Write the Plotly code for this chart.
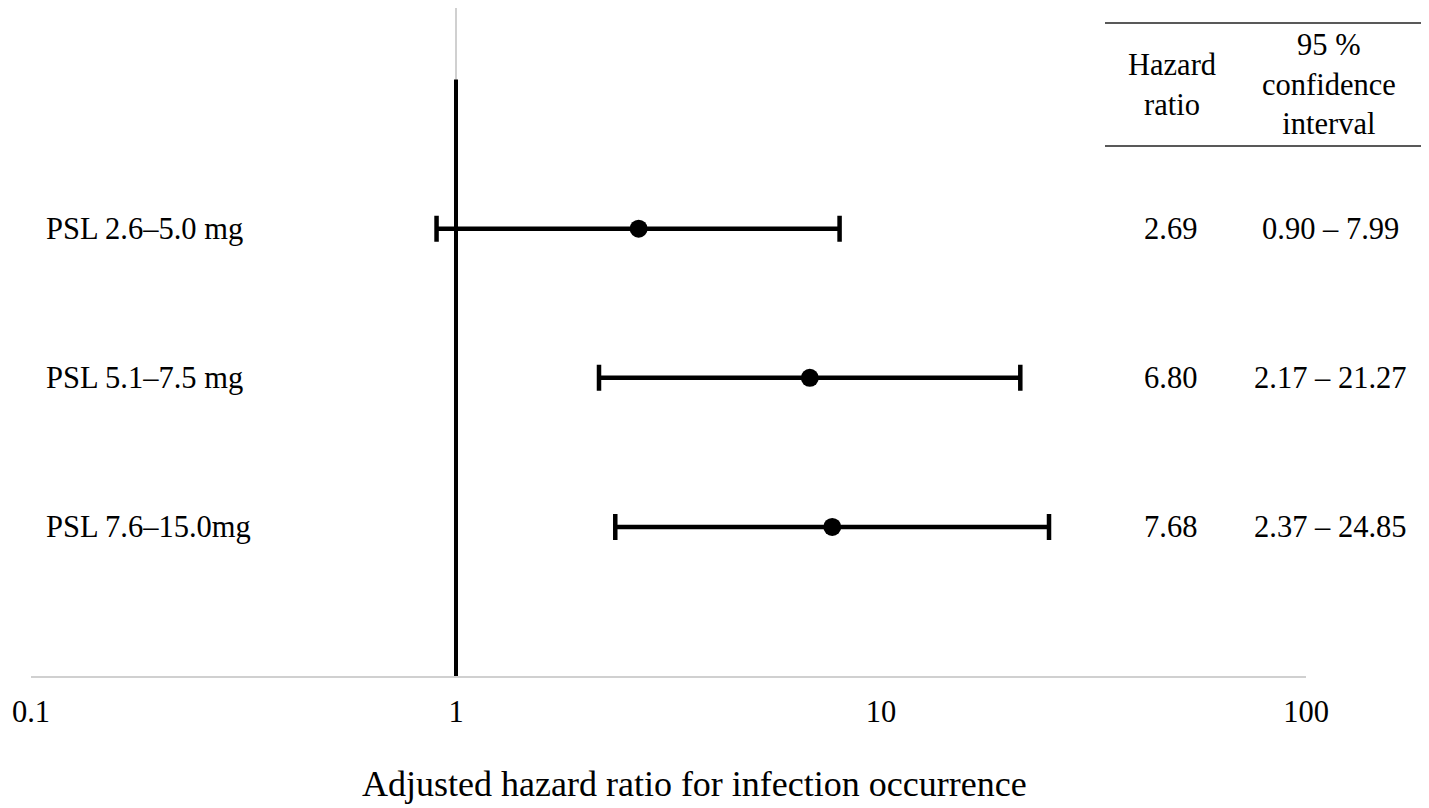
import plotly.graph_objects as go

# Data
labels = ["PSL 2.6–5.0 mg", "PSL 5.1–7.5 mg", "PSL 7.6–15.0mg"]
hr = [2.69, 6.80, 7.68]
ci_low = [0.90, 2.17, 2.37]
ci_high = [7.99, 21.27, 24.85]
hr_text = ["2.69", "6.80", "7.68"]
ci_text = ["0.90 – 7.99", "2.17 – 21.27", "2.37 – 24.85"]
rows = [3, 2, 1]
tick_vals = [0.1, 1, 10, 100]
tick_text = ["0.1", "1", "10", "100"]

FONT = "Liberation Serif"
FS = 30.5
OFF = 8  # default page body margin
W, H = 1429 - OFF, 808 - OFF
ML, MR, MT, MB = 23, 123, 0, 132
PW = W - ML - MR
PH = H - MT - MB


def px_to_paper_x(px):
    return (px - OFF - ML) / PW


def px_to_paper_y(py):
    return (H - MB - (py - OFF)) / PH


fig = go.Figure()

# light grey gridline at 1
fig.add_trace(go.Scatter(x=[1, 1], y=[0, 4.48], mode="lines",
                         line=dict(color="#d0d0d0", width=2),
                         hoverinfo="skip", showlegend=False))
# reference line at 1
fig.add_trace(go.Scatter(x=[1, 1], y=[0, 4], mode="lines",
                         line=dict(color="black", width=4),
                         hoverinfo="skip", showlegend=False))

fig.add_trace(go.Scatter(
    x=hr, y=rows, mode="markers",
    marker=dict(color="black", size=18, symbol="circle"),
    error_x=dict(type="data", symmetric=False,
                 array=[h - p for h, p in zip(ci_high, hr)],
                 arrayminus=[p - l for p, l in zip(hr, ci_low)],
                 color="black", thickness=4.5, width=13),
    showlegend=False,
))

annotations = []
for lab, y in zip(labels, rows):
    annotations.append(dict(x=px_to_paper_x(44), xref="paper", y=y, yref="y",
                            text=lab, showarrow=False, xanchor="left",
                            font=dict(family=FONT, size=FS, color="black")))
for t, c, y in zip(hr_text, ci_text, rows):
    annotations.append(dict(x=px_to_paper_x(1170), xref="paper", y=y, yref="y",
                            text=t, showarrow=False, xanchor="center",
                            font=dict(family=FONT, size=FS, color="black")))
    annotations.append(dict(x=px_to_paper_x(1330), xref="paper", y=y, yref="y",
                            text=c, showarrow=False, xanchor="center",
                            font=dict(family=FONT, size=FS, color="black")))

annotations.append(dict(x=px_to_paper_x(1172), xref="paper", y=px_to_paper_y(85), yref="paper",
                        text="Hazard<br>ratio", showarrow=False, xanchor="center", yanchor="middle",
                        font=dict(family=FONT, size=FS, color="black")))
annotations.append(dict(x=px_to_paper_x(1329), xref="paper", y=px_to_paper_y(84), yref="paper",
                        text="95 %<br>confidence<br>interval", showarrow=False, xanchor="center",
                        yanchor="middle", font=dict(family=FONT, size=FS, color="black")))
annotations.append(dict(x=px_to_paper_x(694), xref="paper", y=px_to_paper_y(784), yref="paper",
                        text="Adjusted hazard ratio for infection occurrence", showarrow=False,
                        xanchor="center", yanchor="middle",
                        font=dict(family=FONT, size=36, color="black")))

shapes = []
for py in [23, 146]:
    shapes.append(dict(type="line", xref="paper", yref="paper",
                       x0=px_to_paper_x(1105), x1=px_to_paper_x(1422),
                       y0=px_to_paper_y(py), y1=px_to_paper_y(py),
                       line=dict(color="#222222", width=1.5)))

fig.update_layout(
    width=W, height=H,
    margin=dict(l=ML, r=MR, t=MT, b=MB),
    paper_bgcolor="white", plot_bgcolor="white",
    annotations=annotations, shapes=shapes,
    xaxis=dict(type="log", range=[-1, 2], tickvals=tick_vals, ticktext=tick_text,
               showgrid=False, zeroline=False, showline=True, linecolor="#d0d0d0",
               linewidth=2, ticks="", ticklabelstandoff=7,
               tickfont=dict(family=FONT, size=FS, color="black")),
    yaxis=dict(range=[0, 4.48], visible=False, showgrid=False, zeroline=False),
)

fig.write_html("out.html")
